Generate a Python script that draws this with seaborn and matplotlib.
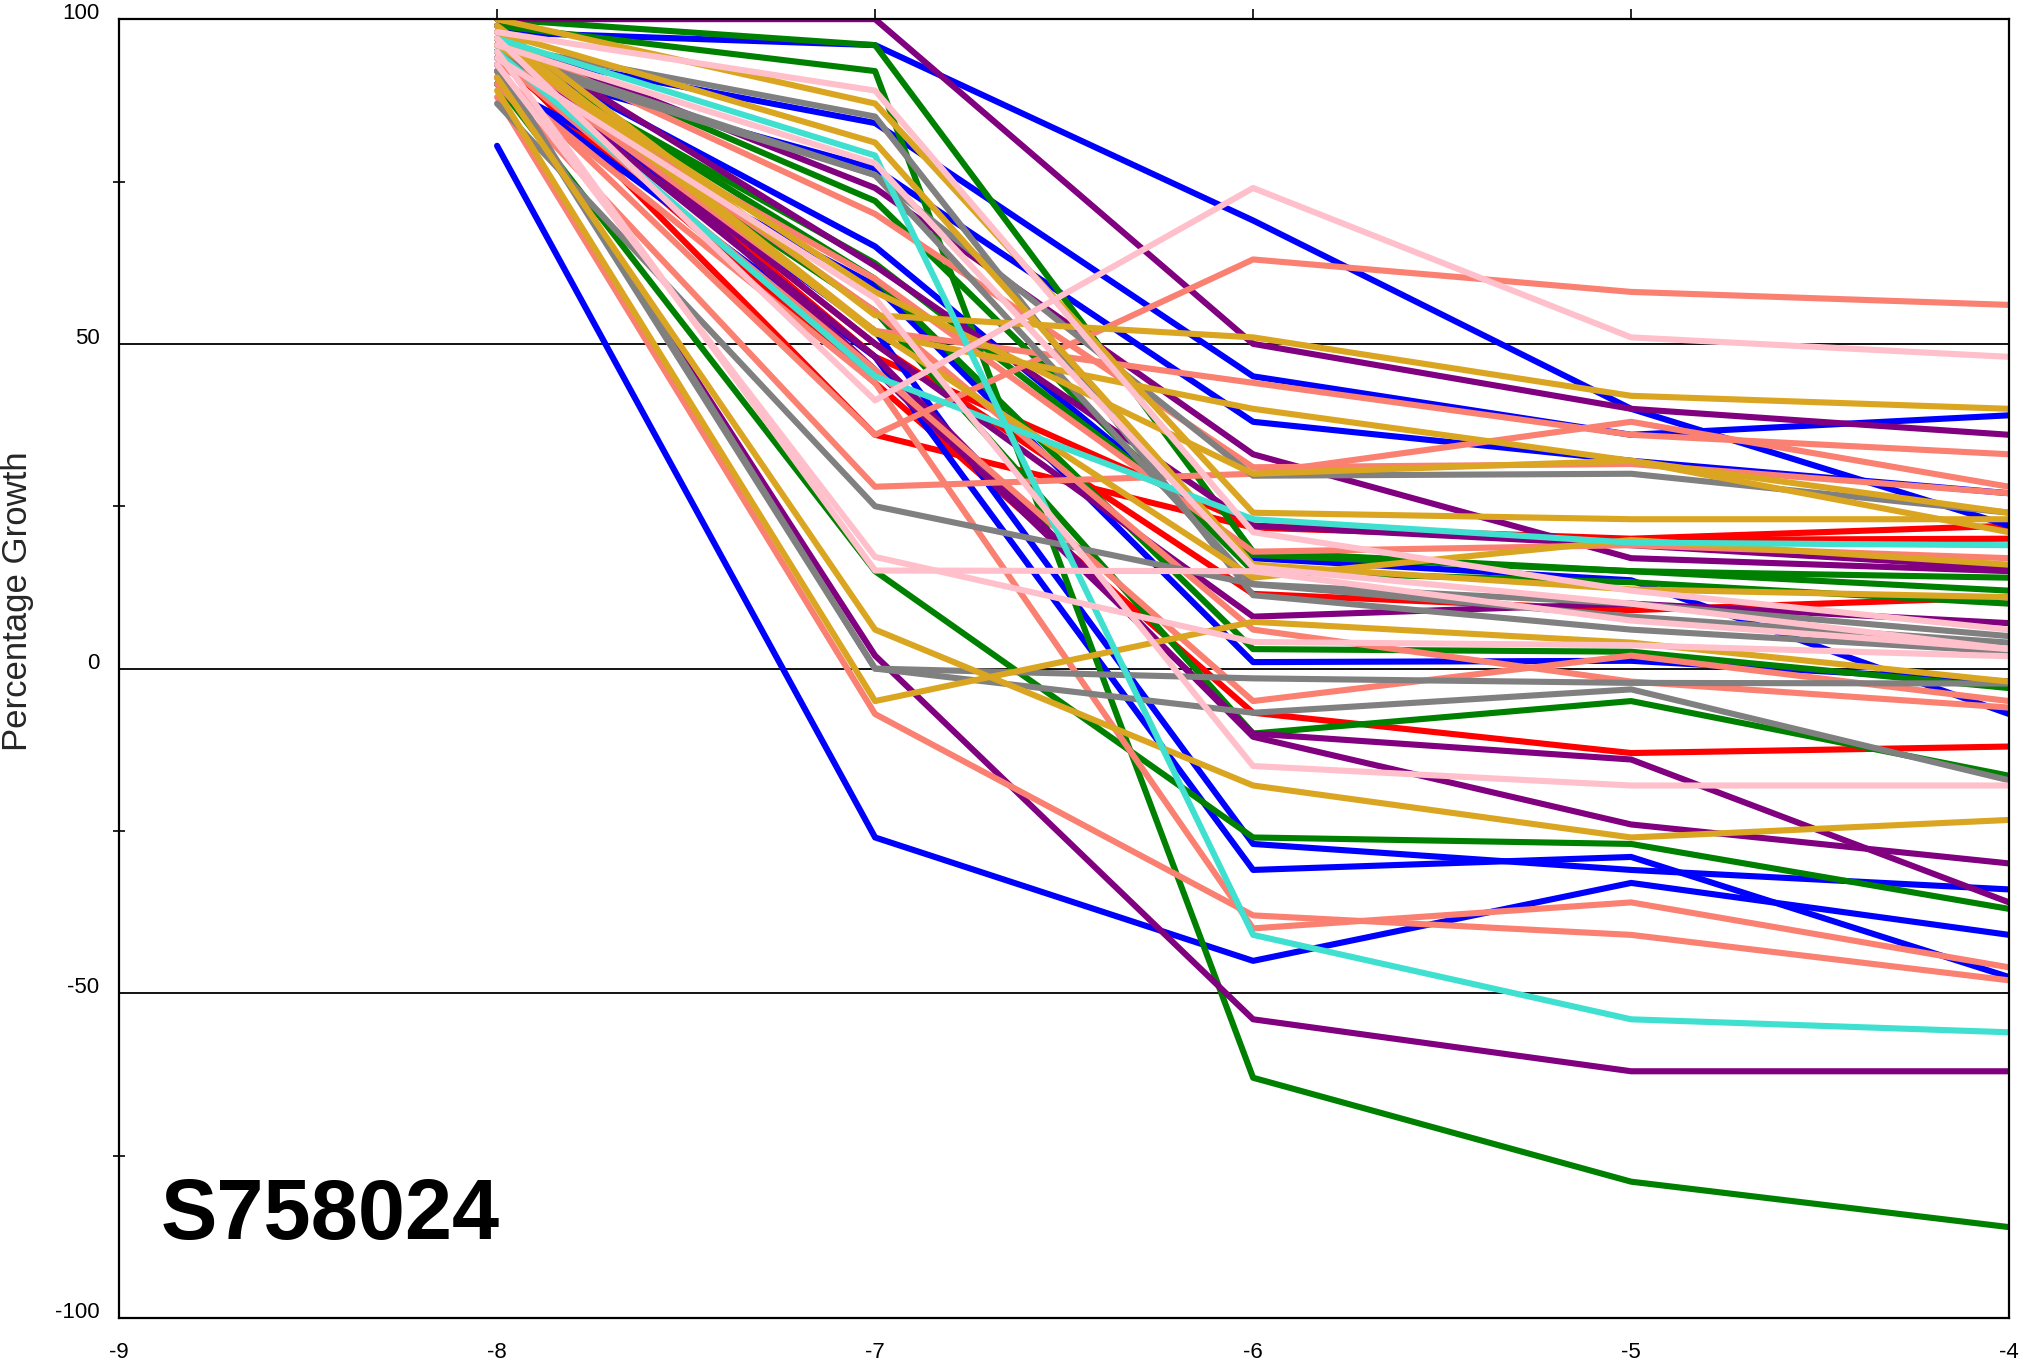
import pandas as pd
import matplotlib
matplotlib.use("Agg")
import matplotlib.pyplot as plt
import seaborn as sns

conc = [-8, -7, -6, -5, -4]

# growth (%) per cell line at log10 concentrations -8..-4, grouped by colour
red_lines = [
    [97, 48, 22, 20, 22],
    [95, 36, 21.7, 19.8, 20],
    [96, 50, 11.5, 9, 11],
    [94, 44, -6.8, -13, -12],
]
blue_lines = [
    [98, 96, 69, 40, 22],
    [95, 84, 45, 36, 39],
    [93, 77, 38, 32, 27],
    [96, 65, 17, 13.6, -7],
    [90, 59, 1, 1.2, -2],
    [94, 52, -27, -31, -34],
    [91, 48, -31, -29, -47.5],
    [80.5, -26, -45, -33, -41],
]
green_lines = [
    [100, 96, 18, 15, 14],
    [99, 92, -63, -79, -86],
    [97, 72, 15, 13.3, 10],
    [95, 62.4, 17.5, 15, 12],
    [96, 60, 3, 2.6, -3],
    [94, 55, -10, -5, -16.5],
    [90, 15, -26, -27, -37],
]
purple_lines = [
    [100, 100, 50, 40, 36],
    [97, 74, 33, 17, 15],
    [98, 62, 22, 19, 15.5],
    [96, 50, 8, 10, 7],
    [95, 48, -10.5, -24, -30],
    [99, 46, -10, -14, -36],
    [92, 2, -54, -62, -62],
]
salmon_lines = [
    [92, 36, 63, 58, 56],
    [95, 52, 44, 36, 33],
    [90, 28, 30, 38, 28],
    [97, 70, 31, 31.5, 27],
    [93, 60, 18, 19, 17],
    [94, 46, -5, 2, -5],
    [96, 55, 6, -2, -6],
    [88, -7, -38, -41, -48],
    [91, 44, -40, -36, -46],
]
gray_lines = [
    [96, 85, 11.3, 6, 2.6],
    [94, 76, 13, 8, 4],
    [87, 25, 13, 10, 5],
    [93, 0, -1.5, -2.2, -2.3],
    [92, 0, -6.8, -3.2, -17.2],
    [95, 76, 29.7, 30, 24],
]
gold_lines = [
    [100, 87, 24, 23, 23],
    [98, 81, 16, 12.2, 11],
    [99, 54.4, 51, 42, 40],
    [97, 51.6, 40, 32, 21],
    [96, 58, 30, 32, 24],
    [91, 6, -18, -26, -23.3],
    [89, -5, 7.2, 4, -2],
    [98, 52, 14, 19.8, 16],
]
turq_lines = [
    [97, 79, -41, -54, -56],
    [95, 45, 23, 19.4, 19],
]
pink_lines = [
    [98, 89, 21, 12, 6],
    [97, 41.3, 74, 51, 48],
    [93, 17.2, 4.1, 3.6, 1.9],
    [95, 15.1, 15, 7.4, 3],
    [94, 57, -15, -18, -18],
    [96, 77.8, 15.6, 10, 3],
]

groups = [
    ("red", red_lines),
    ("blue", blue_lines),
    ("green", green_lines),
    ("purple", purple_lines),
    ("salmon", salmon_lines),
    ("gray", gray_lines),
    ("goldenrod", gold_lines),
    ("turquoise", turq_lines),
    ("pink", pink_lines),
]

rows = []
palette = {}
for color, lines in groups:
    for i, vals in enumerate(lines):
        name = f"{color}_{i}"
        palette[name] = color
        for c, v in zip(conc, vals):
            rows.append({"line": name, "conc": c, "growth": v})
df = pd.DataFrame(rows)

sns.set_style("white")
plt.rcParams["font.family"] = ["Liberation Sans Narrow", "Liberation Sans", "DejaVu Sans"]

fig = plt.figure(figsize=(20.28, 13.67), dpi=100)
ax = fig.add_axes([0.0587, 0.0358, 0.932, 0.9502])

for yv in [-50, 0, 50]:
    ax.axhline(yv, color="black", lw=1.3, zorder=1)

sns.lineplot(data=df, x="conc", y="growth", hue="line", palette=palette,
             legend=False, linewidth=4.4, sort=False, estimator=None, ax=ax, zorder=2)

ax.set_xlim(-9, -4)
ax.set_ylim(-100, 100)
for s in ax.spines.values():
    s.set_color("black")
    s.set_linewidth(1.6)

ax.set_xticks([-9, -8, -7, -6, -5, -4])
ax.set_xticklabels(["-9", "-8", "-7", "-6", "-5", "-4"])
ax.tick_params(axis="x", direction="in", length=7, width=1.4, pad=17,
               labelsize=16, colors="black")
top = ax.secondary_xaxis("top")
top.set_xticks([-8, -7, -6, -5])
top.tick_params(direction="out", length=7, width=1.4, labeltop=False)
top.spines["top"].set_visible(False)

ax.set_yticks([-100, -50, 0, 50, 100])
ax.set_yticklabels(["-100", "-50", "0", "50", "100"])
ax.set_yticks([-75, -25, 25, 75], minor=True)
ax.tick_params(axis="y", which="major", length=0, pad=14, labelsize=16, colors="black")
ax.tick_params(axis="y", which="minor", direction="inout", length=9, width=1.4, left=True)
for lab in ax.get_yticklabels():
    lab.set_va("baseline")

ax.set_xlabel("")
ax.set_ylabel("Percentage Growth", fontsize=25)
ax.yaxis.label.set_va("center")
ax.yaxis.set_label_coords(-0.0535, 0.552)

ax.text(-8.89, -87.9, "S758024", fontsize=61, fontweight="bold",
        ha="left", va="baseline", color="black")

fig.savefig("out.png", dpi=100)
